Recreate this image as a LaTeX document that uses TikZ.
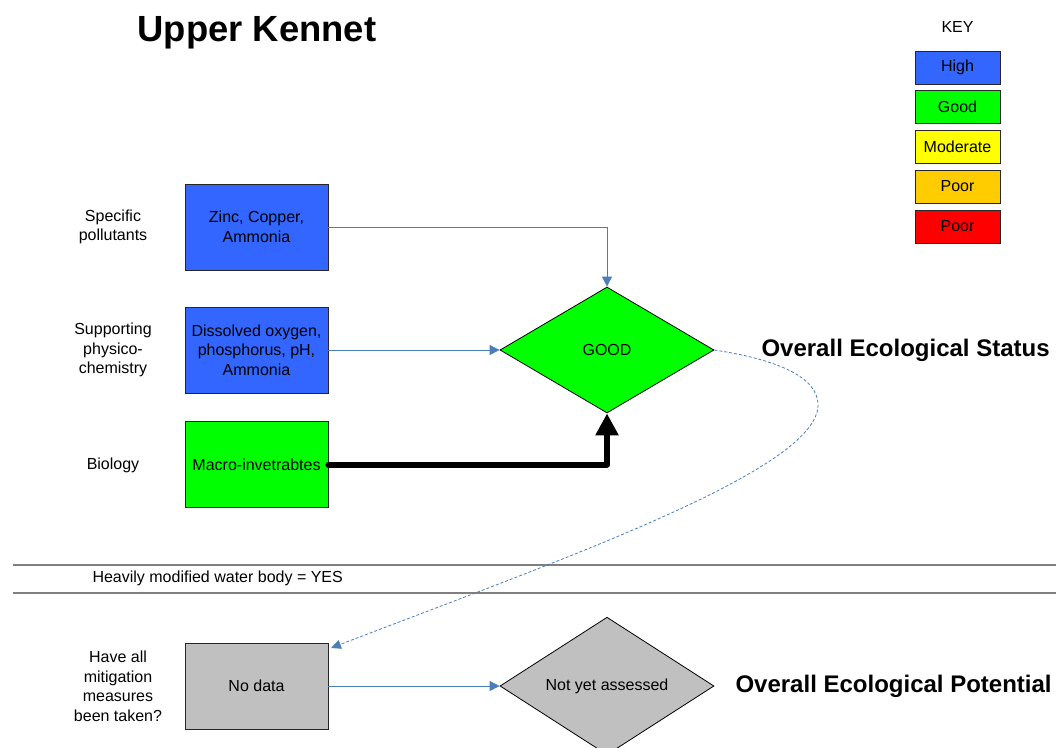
\documentclass[tikz,border=0pt]{standalone}
\usepackage{fontspec}
\setmainfont{Liberation Sans}
\usetikzlibrary{arrows.meta,shapes.geometric}
\definecolor{hiblue}{HTML}{3366FF}
\definecolor{goodgreen}{HTML}{00FF00}
\definecolor{modyellow}{HTML}{FFFF00}
\definecolor{poororange}{HTML}{FFCC00}
\definecolor{badred}{HTML}{FF0000}
\definecolor{nogray}{HTML}{C0C0C0}
\definecolor{arrowblue}{HTML}{4A7EBB}
\definecolor{rulegray}{HTML}{7F7F7F}
\begin{document}
\begin{tikzpicture}[x=1pt,y=-1pt,
  txt/.style={font=\fontsize{16}{19.5}\selectfont},
  box/.style={txt, draw=black!85, line width=0.8pt, minimum width=143pt, minimum height=86pt, inner sep=2pt, align=center},
  lbl/.style={txt, align=center},
  keybox/.style={txt, draw=black!85, line width=0.8pt, minimum width=85pt, minimum height=33pt, inner sep=0pt},
  dia/.style={txt, diamond, draw=black, line width=0.8pt, minimum width=214pt, minimum height=126pt, inner sep=0pt},
  conn/.style={draw=arrowblue, line width=0.8pt, -{Triangle[length=10pt,width=10pt]}},
  bigtxt/.style={font=\fontsize{24}{28}\selectfont\bfseries, anchor=west}
]
\useasboundingbox[fill=white] (0,0) rectangle (1056,747);

% title and key
\node[font=\fontsize{36.4}{40}\selectfont\bfseries] (title) at (257,33) {Upper Kennet};
\node[txt] (key) at (957.5,27) {KEY};
\node[keybox, fill=hiblue] (kHigh) at (957.5,67.5) {High};
\node[keybox, fill=goodgreen] (kGood) at (957.5,106.5) {Good};
\node[keybox, fill=modyellow] (kMod) at (957.5,146.5) {Moderate};
\node[keybox, fill=poororange] (kPoor) at (957.5,186.5) {Poor};
\node[keybox, fill=badred] (kBad) at (957.5,226.5) {Poor};

% left labels
\node[lbl] (l1) at (113,227) {Specific\\pollutants};
\node[lbl] (l2) at (113,350) {Supporting\\physico-\\chemistry};
\node[lbl] (l3) at (113,465) {Biology};
\node[lbl] (l4) at (118,686.5) {Have all\\mitigation\\measures\\been taken?};

% boxes
\node[box, fill=hiblue] (b1) at (256.5,227) {Zinc, Copper,\\Ammonia};
\node[box, fill=hiblue] (b2) at (256.5,350) {Dissolved oxygen,\\phosphorus, pH,\\Ammonia};
\node[box, fill=goodgreen] (b3) at (256.5,464.5) {Macro-invetrabtes};
\node[box, fill=nogray] (b4) at (256.5,686) {No data};

% diamonds
\node[dia, fill=goodgreen] (good) at (607,350) {GOOD};
\node[dia, fill=nogray] (nya) at (607,686) {Not yet assessed};

\node[bigtxt] (oes) at (758,350) {Overall Ecological Status};
\node[bigtxt] (oep) at (732,686) {Overall Ecological Potential};

% rules
\coordinate (r1a) at (13,565);
\coordinate (r1b) at (1056,565);
\coordinate (r2a) at (13,593);
\coordinate (r2b) at (1056,593);
\draw[rulegray, line width=1.2pt] (r1a) -- (r1b);
\draw[rulegray, line width=1.2pt] (r2a) -- (r2b);
\node[txt, anchor=west] (hm) at (89,578) {Heavily modified water body = YES};

% connectors
\draw[conn] (b1.east) -| (good.north);
\draw[conn] (b2.east) -- (good.west);
\draw[line width=6pt, line cap=round, line join=round, -{Triangle[length=22pt,width=22pt]}] (b3.east) -| (good.south);
\draw[conn] (b4.east) -- (nya.west);

\coordinate (bend) at (818,405);
\coordinate (tip) at (331,648);
\draw[arrowblue, line width=0.8pt, dash pattern=on 3pt off 2pt, -{Triangle[length=10pt,width=9pt]}]
  (good.east) .. controls (780,360) and (818,378) .. (bend)
  .. controls (818,470) and (560,560) .. (tip);
\end{tikzpicture}
\end{document}
